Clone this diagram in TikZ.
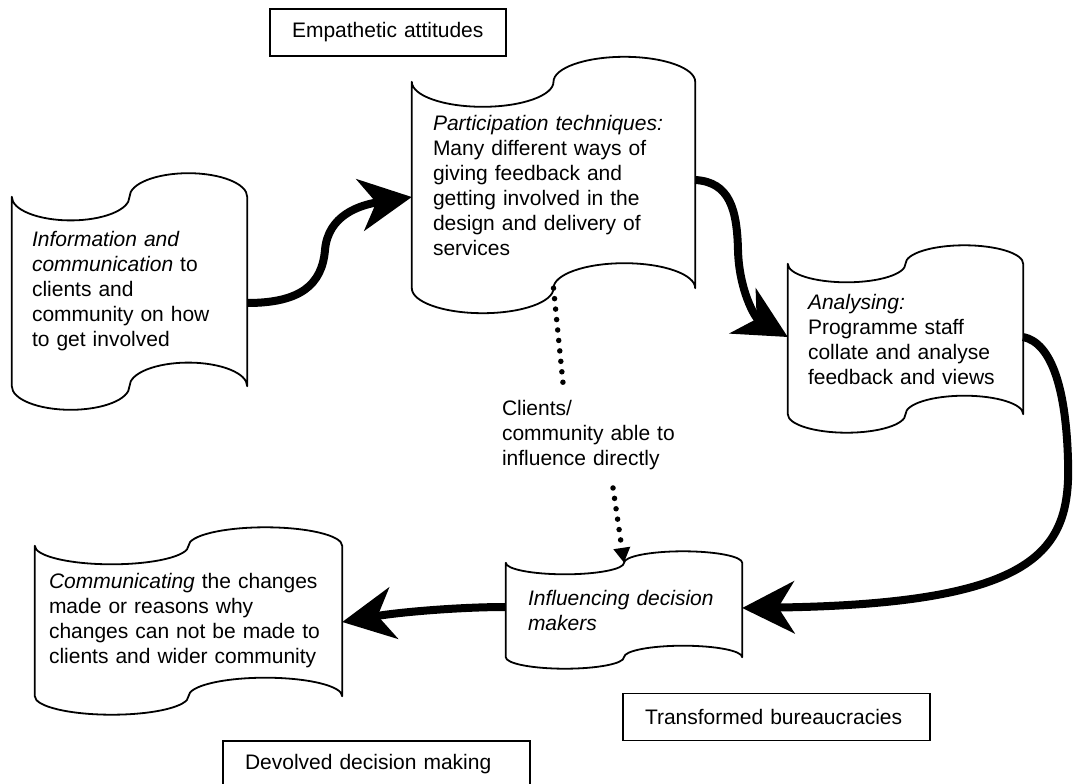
\documentclass[tikz,border=0pt]{standalone}
\usepackage{fontspec}
\setmainfont{Liberation Sans}
\usetikzlibrary{arrows.meta,calc}

\newcommand\diagfont{\fontsize{21}{25}\selectfont}

% Wavy "punched tape" outline around a named body node: #1 node, #2 wave amplitude (pt)
\newcommand\tapeframe[2]{%
  \draw[tapeline] let \p1=(#1.north west), \p2=(#1.south east), \n1={(\x2-\x1)/4} in
    (\p1) arc[start angle=180, end angle=360, x radius=\n1, y radius=#2pt]
          arc[start angle=180, end angle=0,   x radius=\n1, y radius=#2pt]
    -- (\p2)
          arc[start angle=0, end angle=180,  x radius=\n1, y radius=#2pt]
          arc[start angle=0, end angle=-180, x radius=\n1, y radius=#2pt]
    -- cycle;}

\begin{document}
\begin{tikzpicture}[x=1pt,y=1pt,
  tapeline/.style={draw=black, line width=1.8pt, line join=round},
  tape/.style={rectangle, draw=none, inner ysep=0pt, align=left, font=\diagfont},
  tagbox/.style={rectangle, draw=black, line width=1.8pt, inner ysep=0pt,
                 align=left, font=\diagfont, minimum height=47pt, inner xsep=22pt},
  flow/.style={line width=8pt, -{Stealth[length=52pt,width=52pt,inset=16pt]}},
  dotline/.style={line width=5.5pt, line cap=round, dash pattern=on 0pt off 10.5pt},
  dottip/.style={-{Triangle[length=15pt,width=16pt]}},
]
\useasboundingbox (0,0) rectangle (1074,-784);
\fill[white] (0,0) rectangle (1074,-784);
\clip (0,0) rectangle (1074,-784);

% label boxes
\node[tagbox, minimum width=236pt, text width=192pt] (empathy) at (388,-32.5) {Empathetic attitudes};
\node[tagbox, minimum width=307pt, text width=263pt] (bureau) at (776.5,-717) {Transformed bureaucracies};
\node[tagbox, minimum width=307pt, text width=263pt] (devolved) at (376.5,-764.5) {Devolved decision making};

% stage bodies
\node[tape, minimum width=235pt, minimum height=189pt, inner xsep=20pt, text width=195pt]
  (info) at (129.5,-291.5)
  {\textit{Information and}\\\textit{communication} to\\clients and\\community on how\\to get involved};
\node[tape, minimum width=283pt, minimum height=206pt, inner xsep=21pt, text width=241pt]
  (part) at (553.5,-185)
  {\textit{Participation techniques:}\\Many different ways of\\giving feedback and\\getting involved in the\\design and delivery of\\services};
\node[tape, minimum width=235pt, minimum height=150pt, inner xsep=20pt, text width=195pt]
  (anal) at (905.5,-339)
  {\textit{Analysing:}\\Programme staff\\collate and analyse\\feedback and views};
\node[tape, minimum width=236pt, minimum height=94pt, inner xsep=22pt, text width=192pt]
  (infl) at (624,-610)
  {\textit{Influencing decision}\\\textit{makers}};
\node[tape, minimum width=307pt, minimum height=150pt, inner xsep=14pt, text width=279pt]
  (comm) at (188.5,-621)
  {\textit{Communicating} the changes\\made or reasons why\\changes can not be made to\\clients and wider community};

\tapeframe{info}{23.6}
\tapeframe{part}{25}
\tapeframe{anal}{18.5}
\tapeframe{infl}{11.5}
\tapeframe{comm}{18.5}

% side label
\node[font=\diagfont, align=left, text width=190pt, inner sep=3pt] (clients) at (597,-435)
  {Clients/\\community able to\\influence directly};

% main flow
\draw[flow] ([yshift=-11.5pt]info.east)
  .. controls (300,-303) and (322,-285) .. (325,-250)
  .. controls (328,-215) and (360,-205) .. ([yshift=-12pt]part.west);
\draw[flow] ([yshift=5pt]part.east)
  .. controls (730,-182) and (737,-210) .. (738,-250)
  .. controls (739,-290) and (755,-318) .. ([yshift=2pt]anal.west);
\draw[flow] ([yshift=2pt]anal.east)
  .. controls (1052,-343) and (1066,-390) .. (1068,-460)
  .. controls (1071,-550) and (1040,-604) .. ([yshift=2pt]infl.east);
\draw[flow] ([yshift=3pt]infl.west)
  .. controls (460,-607) and (400,-612) .. ([yshift=-1pt]comm.east);

% direct influence
\draw[dotline] (part.south) -- ([xshift=-34pt,yshift=14pt]clients.north);
\draw[dotline, dottip] ([xshift=16pt,yshift=-15pt]clients.south) -- (infl.north);
\end{tikzpicture}
\end{document}
